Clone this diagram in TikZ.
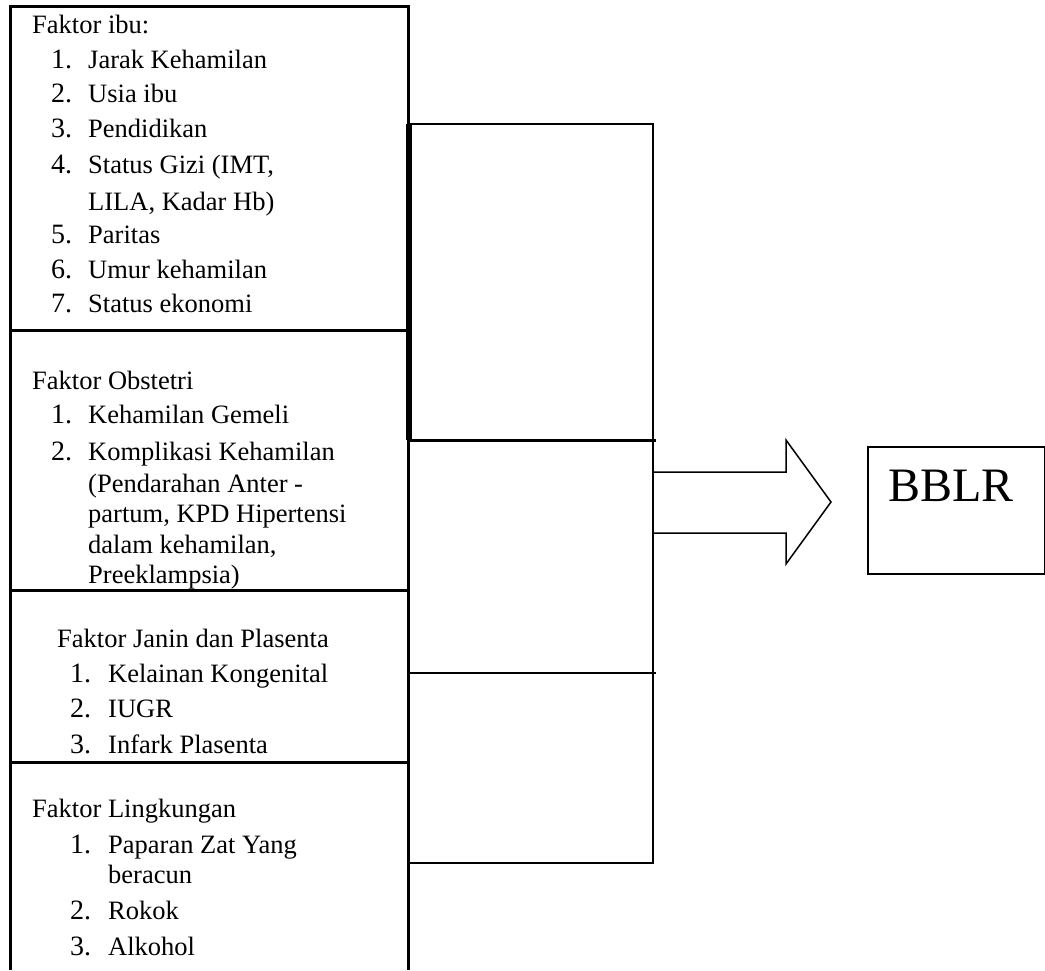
\documentclass[tikz,border=0pt]{standalone}
\usepackage{fontspec}
\setmainfont{Liberation Serif}
\begin{document}
\begin{tikzpicture}[x=1pt,y=-1pt,
  frame/.style={line width=3pt},
  thinline/.style={line width=2pt},
  txt/.style={anchor=base west,inner sep=0pt,font=\fontsize{26.5}{30}\selectfont},
  num/.style={anchor=base west,inner sep=0pt,font=\fontsize{28}{30}\selectfont},
  bigarrow/.style={line width=1.5pt,line join=miter},
  resultbox/.style={draw,line width=2pt,inner sep=0pt,anchor=north west,minimum width=177pt,minimum height=127pt}]
\useasboundingbox (0,0) rectangle (1045,970);

% left column frame
\draw[frame] (10,970) -- (10,6) -- (408,6) -- (408,970);
\draw[frame] (10,330) -- (408,330);
\draw[frame] (10,590) -- (408,590);
\draw[frame] (10,762) -- (408,762);

% middle boxes
\draw[line width=6pt] (409,124) -- (409,440);
\draw[thinline] (408,124) -- (654,124);
\draw[thinline] (653,124) -- (653,864);
\draw[frame] (408,440) -- (656,440);
\draw[thinline] (408,673) -- (656,673);
\draw[thinline] (408,863) -- (654,863);

% block arrow
\coordinate (a1) at (653,472);
\coordinate (a2) at (786,472);
\coordinate (a3) at (786,440);
\coordinate (tip) at (831,502);
\coordinate (a5) at (786,564);
\coordinate (a6) at (786,533);
\coordinate (a7) at (653,533);
\draw[bigarrow] (a1) -- (a2) -- (a3) -- (tip) -- (a5) -- (a6) -- (a7);

% result box
\node[resultbox] (bblr) at (867,446) {};
\node[anchor=base west,inner sep=0pt,font=\fontsize{48}{50}\selectfont] (bblrtext) at (888,501) {BBLR};

% Faktor ibu
\node[txt] (ibu) at (32,33) {Faktor ibu:};
\node[num] (i1n) at (51,68) {1.};  \node[txt] (i1) at (88,68) {Jarak Kehamilan};
\node[num] (i2n) at (51,102) {2.}; \node[txt] (i2) at (88,102) {Usia ibu};
\node[num] (i3n) at (51,137) {3.}; \node[txt] (i3) at (88,137) {Pendidikan};
\node[num] (i4n) at (51,173) {4.}; \node[txt] (i4) at (88,173) {Status Gizi (IMT,};
\node[txt] (i4b) at (88,210) {LILA, Kadar Hb)};
\node[num] (i5n) at (51,243) {5.}; \node[txt] (i5) at (88,243) {Paritas};
\node[num] (i6n) at (51,278) {6.}; \node[txt] (i6) at (88,278) {Umur kehamilan};
\node[num] (i7n) at (51,312) {7.}; \node[txt] (i7) at (88,312) {Status ekonomi};

% Faktor Obstetri
\node[txt] (obs) at (32,389) {Faktor Obstetri};
\node[num] (o1n) at (51,423) {1.}; \node[txt] (o1) at (88,423) {Kehamilan Gemeli};
\node[num] (o2n) at (51,460) {2.}; \node[txt] (o2) at (88,460) {Komplikasi Kehamilan};
\node[txt] (o2b) at (88,492) {(Pendarahan Anter -};
\node[txt] (o2c) at (88,522) {partum, KPD Hipertensi};
\node[txt] (o2d) at (88,553) {dalam kehamilan,};
\node[txt] (o2e) at (88,583) {Preeklampsia)};

% Faktor Janin dan Plasenta
\node[txt] (jan) at (57,647) {Faktor Janin dan Plasenta};
\node[num] (j1n) at (70,682) {1.}; \node[txt] (j1) at (108,682) {Kelainan Kongenital};
\node[num] (j2n) at (70,717) {2.}; \node[txt] (j2) at (108,717) {IUGR};
\node[num] (j3n) at (70,753) {3.}; \node[txt] (j3) at (108,753) {Infark Plasenta};

% Faktor Lingkungan
\node[txt] (lin) at (32,817) {Faktor Lingkungan};
\node[num] (l1n) at (70,853) {1.}; \node[txt] (l1) at (108,853) {Paparan Zat Yang};
\node[txt] (l1b) at (108,883) {beracun};
\node[num] (l2n) at (70,919) {2.}; \node[txt] (l2) at (108,919) {Rokok};
\node[num] (l3n) at (70,955) {3.}; \node[txt] (l3) at (108,955) {Alkohol};
\end{tikzpicture}
\end{document}
